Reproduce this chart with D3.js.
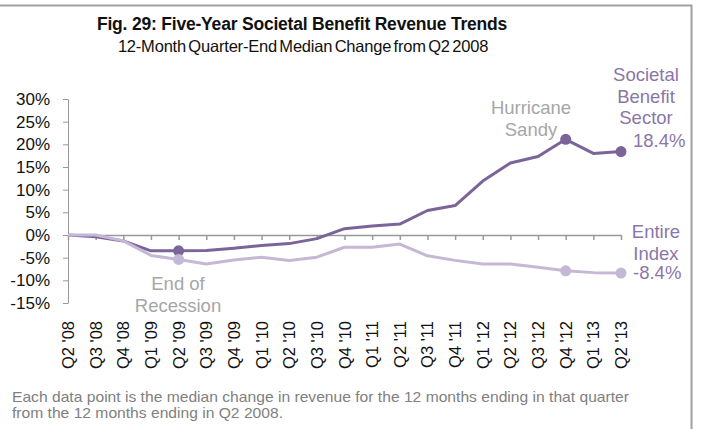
<!DOCTYPE html>
<html>
<head>
<meta charset="utf-8">
<script src="https://cdn.jsdelivr.net/npm/d3@7"></script>
<style>
  body { margin: 0; background: #fff; }
  svg { display: block; font-family: 'Liberation Sans', Arial, sans-serif; }
</style>
</head>
<body>
<div id="chart"></div>
<script>
const quarters = ["Q2 '08", "Q3 '08", "Q4 '08", "Q1 '09", "Q2 '09", "Q3 '09", "Q4 '09",
  "Q1 '10", "Q2 '10", "Q3 '10", "Q4 '10", "Q1 '11", "Q2 '11", "Q3 '11", "Q4 '11",
  "Q1 '12", "Q2 '12", "Q3 '12", "Q4 '12", "Q1 '13", "Q2 '13"]

const societalBenefit = [0, -0.4, -1.3, -3.5, -3.5, -3.4, -2.9, -2.3, -1.9, -0.8, 1.4,
  2.0, 2.4, 5.4, 6.5, 11.9, 15.9, 17.3, 21.1, 18.0, 18.4]

const entireIndex = [0, 0, -1.3, -4.5, -5.4, -6.4, -5.5, -4.9, -5.6, -4.9, -2.7,
  -2.7, -2.0, -4.6, -5.6, -6.4, -6.4, -7.1, -7.9, -8.3, -8.4]

const yTicks = [30, 25, 20, 15, 10, 5, 0, -5, -10, -15]

// highlighted points: [series, index]
const markedPoints = [
  ['sb', 4], ['sb', 18], ['sb', 20],
  ['ei', 4], ['ei', 18], ['ei', 20],
]

const width = 702
const height = 429
const darkColor = '#7a6498'
const lightColor = '#c4b8d4'
const labelColor = '#8a76a8'
const noteColor = '#a6a6a6'

const svg = d3.select('#chart')
  .append('svg')
  .attr('width', width)
  .attr('height', height)

// frame (top + right edge only)
svg.append('path')
  .attr('d', `M0,5.5 H691.5 V${height}`)
  .attr('fill', 'none')
  .attr('stroke', '#a0a0a0')
  .attr('stroke-width', 2)

// titles
svg.append('text')
  .attr('x', 302).attr('y', 30)
  .attr('text-anchor', 'middle')
  .attr('font-size', 17.5)
  .attr('font-weight', 'bold')
  .attr('letter-spacing', -0.2)
  .attr('fill', '#111')
  .text('Fig. 29: Five-Year Societal Benefit Revenue Trends')

svg.append('text')
  .attr('x', 303).attr('y', 52)
  .attr('text-anchor', 'middle')
  .attr('font-size', 16.5)
  .attr('word-spacing', -2)
  .attr('letter-spacing', -0.2)
  .attr('fill', '#111')
  .text('12-Month Quarter-End Median Change from Q2 2008')

const x = d3.scalePoint().domain(quarters).range([68, 621])
const y = d3.scaleLinear().domain([-15, 30]).range([303, 99])

// y axis
const yAxis = svg.append('g')
  .attr('transform', 'translate(68,0)')
  .call(d3.axisLeft(y).tickValues(yTicks).tickSize(5).tickSizeOuter(0)
    .tickFormat(d => `${d}%`))
yAxis.select('.domain').attr('stroke', '#999')
yAxis.selectAll('.tick line').attr('stroke', '#999')
yAxis.selectAll('.tick text')
  .attr('x', -18)
  .attr('font-size', 17)
  .attr('fill', '#111')
  .attr('font-family', "'Liberation Sans', Arial, sans-serif")

// x axis on the zero line
const xAxis = svg.append('g')
  .attr('transform', `translate(0,${y(0)})`)
  .call(d3.axisBottom(x).tickSize(5).tickSizeOuter(0).tickFormat(''))
xAxis.select('.domain').attr('stroke', '#999').attr('stroke-width', 1.5)
xAxis.selectAll('.tick line').attr('stroke', '#999').attr('stroke-width', 1.5)

// rotated quarter labels below the plot
svg.append('g')
  .selectAll('text')
  .data(quarters)
  .join('text')
  .attr('transform', d => `translate(${x(d) + 6},321) rotate(-90)`)
  .attr('text-anchor', 'end')
  .attr('font-size', 16.5)
  .attr('fill', '#111')
  .text(d => d)

const line = d3.line()
  .x((d, i) => x(quarters[i]))
  .y(d => y(d))

svg.append('path')
  .datum(societalBenefit)
  .attr('d', line)
  .attr('fill', 'none')
  .attr('stroke', darkColor)
  .attr('stroke-width', 3)
  .attr('stroke-linejoin', 'round')

svg.append('path')
  .datum(entireIndex)
  .attr('d', line)
  .attr('fill', 'none')
  .attr('stroke', lightColor)
  .attr('stroke-width', 3)
  .attr('stroke-linejoin', 'round')

svg.append('g')
  .selectAll('circle')
  .data(markedPoints)
  .join('circle')
  .attr('cx', d => x(quarters[d[1]]))
  .attr('cy', d => y(d[0] === 'sb' ? societalBenefit[d[1]] : entireIndex[d[1]]))
  .attr('r', 5.5)
  .attr('fill', d => (d[0] === 'sb' ? darkColor : lightColor))

// annotations
const annotate = (lines, ax, ay, color, anchor = 'middle') => {
  const t = svg.append('text')
    .attr('x', ax).attr('y', ay)
    .attr('text-anchor', anchor)
    .attr('font-size', 18.5)
    .attr('fill', color)
  lines.forEach((l, i) => {
    t.append('tspan').attr('x', ax).attr('dy', i === 0 ? 0 : 21.5).text(l)
  })
}

annotate(['Societal', 'Benefit', 'Sector'], 646, 81, labelColor)
annotate(['18.4%'], 633, 147, labelColor, 'start')
annotate(['Entire', 'Index'], 656, 238, labelColor)
annotate(['-8.4%'], 633, 279, labelColor, 'start')
annotate(['Hurricane', 'Sandy'], 531, 114, noteColor)
annotate(['End of', 'Recession'], 178, 290, noteColor)

// footnote
const note = svg.append('text')
  .attr('x', 12).attr('y', 402)
  .attr('font-size', 15)
  .attr('fill', '#808080')
note.append('tspan').attr('x', 12)
  .attr('textLength', 617).attr('lengthAdjust', 'spacingAndGlyphs')
  .text('Each data point is the median change in revenue for the 12 months ending in that quarter')
note.append('tspan').attr('x', 12).attr('dy', 16)
  .attr('textLength', 271).attr('lengthAdjust', 'spacingAndGlyphs')
  .text('from the 12 months ending in Q2 2008.')
</script>
</body>
</html>
